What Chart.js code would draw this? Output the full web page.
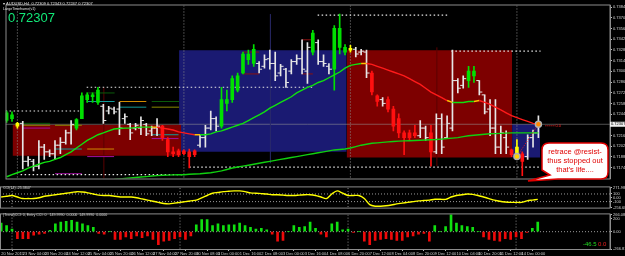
<!DOCTYPE html>
<html><head><meta charset="utf-8">
<script src="https://cdn.jsdelivr.net/npm/chart.js@4.4.1/dist/chart.umd.min.js"></script>
<style>
html,body{margin:0;padding:0;background:#000;overflow:hidden;width:625px;height:256px}
canvas{position:absolute;left:0;display:block}
</style></head><body>
<canvas id="c1" width="625" height="184" style="top:0"></canvas>
<canvas id="c2" width="625" height="27" style="top:184px"></canvas>
<canvas id="c3" width="625" height="45" style="top:211px"></canvas>
<script>
// ---------- DATA ----------
const barHigh = [.72481,.72469,.72331,.72344,.71884,.71847,.72095,.72045,.71971,.72095,
.72132,.72232,.72356,.72381,.72717,.72717,.72717,.72791,.72568,.72543,
.72531,.72593,.72444,.72319,.72319,.72406,.72319,.72282,.72381,.72294,
.72132,.72008,.71983,.71971,.71983,.71971,.72170,.72294,.72481,.72406,
.72791,.72754,.72941,.72978,.73252,.73277,.73351,.73128,.73215,.73277,
.73252,.73091,.73041,.73153,.73215,.73413,.73376,.73538,.73413,.73215,
.73103,.73600,.73750,.73351,.73339,.73314,.73289,.73277,.73003,.72692,
.72655,.72667,.72543,.72444,.72220,.72232,.72294,.72356,.72282,.72294,
.72444,.72444,.72419,.73277,.72904,.72941,.73066,.73066,.72879,.72692,
.72630,.72630,.72282,.72220,.71983,.72107,.71946,.72170,.72232,.72419];
const barLow = [.72331,.72344,.72257,.71722,.71759,.71697,.71722,.71847,.71884,.71847,
.71921,.72045,.72045,.72232,.72381,.72593,.72593,.72568,.72319,.72444,
.72444,.72170,.72319,.72107,.72232,.72170,.72157,.72157,.72157,.72095,
.71884,.71884,.71884,.71909,.71734,.71884,.72008,.72008,.72232,.72220,
.72257,.72481,.72593,.72729,.72966,.73091,.73066,.72978,.73041,.73028,
.72879,.72941,.72791,.72966,.73091,.72966,.72842,.73215,.73091,.73066,
.72966,.72754,.73227,.73215,.73252,.73190,.73215,.72916,.72692,.72543,
.72543,.72469,.72220,.72132,.71909,.72095,.72132,.72132,.72095,.71759,
.71921,.71921,.72132,.72220,.72717,.72779,.72791,.72854,.72692,.72444,
.72157,.71921,.71921,.71921,.71884,.71884,.71635,.71847,.72008,.72132];
const barOpen = [.72356,.72381,.72319,.72319,.71822,.71822,.71759,.72008,.71946,.71921,
.72033,.72070,.72194,.72257,.72381,.72630,.72692,.72593,.72543,.72481,
.72506,.72506,.72381,.72306,.72257,.72257,.72306,.72220,.72257,.72282,
.72107,.71946,.71958,.71958,.71946,.71958,.72033,.72132,.72257,.72381,
.72282,.72580,.72630,.72754,.72978,.73153,.73103,.73103,.73066,.73165,
.73103,.72978,.73028,.73003,.73128,.73165,.73003,.73252,.73376,.73128,
.73066,.73028,.73563,.73314,.73277,.73289,.73252,.73252,.72978,.72679,
.72630,.72630,.72506,.72381,.72194,.72194,.72194,.72157,.72257,.72194,
.71946,.72381,.72132,.72257,.72879,.72816,.72879,.72941,.72879,.72692,
.72506,.72257,.72008,.72132,.71971,.71909,.71921,.71884,.72132,.72194];
const barClose = [.72456,.72431,.72282,.71822,.71847,.71759,.72008,.71946,.71921,.72033,
.72070,.72194,.72306,.72369,.72679,.72692,.72667,.72754,.72356,.72518,
.72469,.72257,.72406,.72194,.72294,.72356,.72182,.72257,.72282,.72132,
.71946,.71921,.71909,.71921,.71884,.71909,.72132,.72257,.72381,.72282,
.72630,.72630,.72904,.72941,.73227,.73227,.73289,.73028,.73153,.73103,
.72941,.73066,.72854,.73128,.73165,.73028,.73314,.73501,.73128,.73103,
.73028,.73563,.73314,.73252,.73302,.73227,.73264,.72978,.72729,.72605,
.72580,.72506,.72282,.72194,.72132,.72132,.72157,.72257,.72132,.71946,
.72381,.72008,.72319,.72879,.72779,.72904,.73003,.73003,.72729,.72469,
.72257,.72008,.72194,.72008,.71909,.72008,.71822,.72132,.72194,.72307];
// bar trend class: g = up, r = down, y = turn, w = neutral
const barTrend = "ggywwwwwwwwwwgggggwwwwwwwwwwwrrrrrrrwwwwgggggggwwwwwwwwwwgwwwgggywwwrrwrrrrrrwwrwwwwwwggwwwwwwryrwww".split('');

const fastMA = [.71620,.71647,.71672,.71697,.71734,.71759,.71784,.71809,.71822,.71847,
.71872,.71909,.71946,.71996,.72045,.72095,.72132,.72170,.72194,.72220,
.72245,.72251,.72257,.72257,.72263,.72269,.72269,.72269,.72269,.72257,
.72245,.72232,.72207,.72194,.72182,.72170,.72170,.72170,.72182,.72207,
.72220,.72245,.72269,.72294,.72319,.72356,.72394,.72431,.72469,.72518,
.72555,.72593,.72630,.72667,.72717,.72754,.72791,.72816,.72854,.72879,
.72916,.72953,.72991,.73041,.73078,.73091,.73103,.73103,.73091,.73066,
.73041,.73016,.72991,.72966,.72941,.72904,.72866,.72829,.72779,.72729,
.72692,.72655,.72618,.72593,.72593,.72593,.72605,.72605,.72618,.72593,
.72568,.72531,.72494,.72456,.72419,.72394,.72369,.72344,.72319,.72307];
const fastTrend = [1,1,1,1,1,1,1,1,1,1, 1,1,1,1,1,1,1,1,1,1, 1,1,1,1,1,1,1,1,-1,-1,
-1,-1,-1,-1,-1,-1,1,1,1,1, 1,1,1,1,1,1,1,1,1,1, 1,1,1,1,1,1,1,1,1,1,
1,1,1,1,1,1,1,-1,-1,-1, -1,-1,-1,-1,-1,-1,-1,-1,-1,-1, -1,-1,-1,1,1,1,1,1,-1,-1,
-1,-1,-1,-1,-1,-1,-1,-1,-1,-1];
const slowMA = [null,null,null,null,null,null,null,null,null,null,
null,null,null,null,null,null,null,null,null,null,
.71585,.71591,.71597,.71604,.71610,.71616,.71622,.71629,.71635,.71639,
.71641,.71644,.71647,.71647,.71653,.71656,.71660,.71666,.71672,.71684,
.71697,.71715,.71734,.71747,.71759,.71771,.71784,.71796,.71809,.71822,
.71834,.71847,.71859,.71872,.71884,.71896,.71909,.71921,.71934,.71946,
.71958,.71971,.71977,.71983,.71996,.72014,.72033,.72045,.72058,.72064,
.72070,.72076,.72082,.72086,.72089,.72092,.72095,.72098,.72101,.72105,
.72107,.72113,.72120,.72126,.72132,.72145,.72157,.72163,.72170,.72176,
.72182,.72185,.72188,.72191,.72194,.72194,.72194,.72194,.72194,.72194];

const cciValues = [20,40,60,20,-20,-20,-20,0,40,60,
80,100,120,140,160,150,130,100,70,60,
60,40,20,20,20,0,-30,-60,-90,-120,
-150,-160,-140,-120,-100,-80,-60,0,60,120,
140,160,170,180,180,160,130,120,110,100,
80,80,70,60,60,70,80,80,60,20,
-20,100,180,120,60,60,60,-20,-180,-220,
-220,-210,-190,-160,-140,-120,-100,-80,-70,-60,
-40,-40,-40,20,60,80,100,90,60,20,
-20,-60,-90,-110,-120,-120,-120,-80,-60,-40];

const trendHist = [133,93,40,-106,-106,-106,-53,-40,-27,20,
120,146,160,173,146,120,93,66,-27,-40,
0,-120,-120,-80,-106,-66,-93,-66,-120,-200,
-146,-133,-106,-80,-120,-66,106,186,186,93,
120,93,106,106,133,93,66,40,53,27,
-40,-146,-133,0,93,66,80,146,53,-40,
-80,120,146,27,40,-13,0,-146,-200,-133,
-120,-106,-120,-133,-133,-80,-66,-40,-27,-146,
93,0,80,266,133,93,80,66,0,-80,
-120,-133,-146,-106,-120,-80,-106,-13,53,146];

// zones: [startBar, endBar, top, bottom, kind]
const zoneStart = [1.1, 32.1, 63.3, 94.1];
const zoneEnd   = [32.5, 63.3, 94.1, 99.3];
const zoneTop   = [.72300, .73277, .73277, .72307];
const zoneBottom= [.71896, .71946, .71871, .71871];
const zoneKind  = ['sell','buy','sell','buy'];

// dotted target levels: start bar, end bar, price
const dotStart = [57.9, 82.8, 14.9, -0.2, 34, 2.6];
const dotEnd   = [82.3, 99.4, 57.0, 13.6, 99.4, 33];
const dotPrice = [.73737, .73264, .72792, .72481, .71747, .71647];

// short pivot levels: start, end, price, colour key
const lvlStart = [14.9,14.9,21,21,27,27,3,3,3,9,9,9,15,15,27,27,44,44,55,55];
const lvlEnd   = [20.1,20.1,26,26,32.1,32.1,8.1,8.1,8.1,14,14,14,20,20,32,32,47,47,57,57];
const lvlPrice = [.72717,.72605,.72605,.72531,.72605,.72531,.72319,.72294,.72257,.72294,.71983,.71660,.71983,.71884,.72170,.72120,.73252,.72966,.73413,.72966];
const lvlKind  = ['dg','cy','or','cy','dg','ol','dg','ol','mg','ol','cy','mg','or','mg','cy','mg','dr','dr','dr','dr'];

const vlineBar = [18.1, 49.1, 80.1];
const vlineTop = [.72791, .73750, .73314];
const vlineBot = [.71600, .71797, .71759];

const weekBars = [2, 33, 64, 95];
const currentPrice = 0.72307;
const markerBars = [95, 99];
const markerPrices = [.71884, .72307];

const priceTicks = [.73840,.73700,.73560,.73420,.73280,.73140,.73000,.72860,.72720,.72580,.72440,.72160,.72020,.71880,.71740];
const cciTicks = [271.9806, 100, 0, -100, -256.684];
const cciTickLabels = ['271.9806','100','0.00','-100','-256.684'];
const histTicks = [266.0812, 200, 0, -266.81];
const histTickLabels = ['266.0812','200','0.00','-266.81'];
const timeTickBars = [0,4,8,12,16,20,24,28,32,36,40,44,48,52,56,60,64,68,72,76,80,84,88,92,96];
const timeTickLabels = ['20 Nov 2015','23 Nov 04:00','23 Nov 20:00','24 Nov 12:00','25 Nov 04:00','25 Nov 20:00','26 Nov 12:00','27 Nov 04:00','27 Nov 20:00','30 Nov 08:00','1 Dec 00:00','1 Dec 16:00','2 Dec 08:00','3 Dec 00:00','3 Dec 16:00','4 Dec 08:00','6 Dec 20:00','7 Dec 12:00','8 Dec 04:00','8 Dec 20:00','9 Dec 12:00','10 Dec 04:00','10 Dec 20:00','11 Dec 12:00','14 Dec 00:00'];

// ---------- STYLE ----------
const X_MIN = -0.214, X_MAX = 112.33;
const COL = {g:'#00e000', r:'#ff1010', y:'#ffff00', w:'#e6e6e6'};
const LVL = {dg:'#0a5a0a', cy:'#119a9a', or:'#d08a00', ol:'#8a8a00', mg:'#a010a0', dr:'#8a1010'};
const ZONE = {sell:'#7d0000', buy:'#1a1a72'};
const FONT = "'Liberation Sans', Arial, sans-serif";
const N = barHigh.length;
const idx = [...Array(N).keys()];

function seg(x0, x1, y0, y1, color, width, dash, order) {
  return {type:'line', data:[{x:x0,y:y0},{x:x1,y:y1}], borderColor:color, borderWidth:width,
    borderDash:dash, pointRadius:0, fill:false, order:order, tension:0};
}
const bg = {id:'bg', beforeDraw(ch){const c=ch.ctx;c.save();c.fillStyle='#000';c.fillRect(0,0,ch.width,ch.height);c.restore();}};
const frame = {id:'frame', afterDraw(ch){const a=ch.chartArea,c=ch.ctx;c.save();c.strokeStyle='#8c8c8c';c.lineWidth=1;
  c.strokeRect(a.left+0.5,a.top-0.5,a.right-a.left-0.5,a.bottom-a.top+1);c.restore();}};

function xScale(display) {
  return {type:'linear', min:X_MIN, max:X_MAX, offset:false, display:display,
    grid:{display:false}, border:{display:false}};
}
function yAxis(min, max, ticksArr, labelFn) {
  return {type:'linear', position:'right', min:min, max:max,
    afterBuildTicks: s => { s.ticks = ticksArr.map(v => ({value:v})); },
    afterFit: s => { s.width = 15; },
    ticks:{color:'#d0d0d0', font:{size:4, family:FONT}, padding:1, callback: labelFn, autoSkip:false},
    grid:{drawOnChartArea:false, drawTicks:true, tickLength:2, color:'#bbbbbb'},
    border:{display:true, color:'#8c8c8c'}};
}
const baseOpts = {responsive:false, animation:false, events:[], devicePixelRatio:1,
  plugins:{legend:{display:false}, tooltip:{enabled:false}}};

// ---------- MAIN CHART ----------
const ds1 = [];
zoneStart.forEach((s,k) => ds1.push({type:'line', data:[{x:s,y:zoneTop[k]},{x:zoneEnd[k],y:zoneTop[k]}],
  fill:{value:zoneBottom[k]}, backgroundColor:ZONE[zoneKind[k]], borderWidth:0, pointRadius:0, order:100}));
ds1.push(seg(X_MIN, X_MAX, currentPrice, currentPrice, 'rgba(150,150,150,0.55)', 1, [], 90));
weekBars.forEach(b => ds1.push(seg(b, b, 0.70, 0.75, '#8a8a8a', 1, [1,2], 89)));
vlineBar.forEach((b,k) => ds1.push(seg(b, b, vlineBot[k], vlineTop[k], k===1?'#2a2a6a':'#5a0000', 1, [], 88)));
lvlStart.forEach((s,k) => ds1.push(seg(s, lvlEnd[k], lvlPrice[k], lvlPrice[k], LVL[lvlKind[k]], 1, [], 80)));
dotStart.forEach((s,k) => ds1.push(seg(s, dotEnd[k], dotPrice[k], dotPrice[k], '#e8e8e8', 1.2, [1.5,2.5], 70)));
ds1.push(seg(markerBars[0], markerBars[1], markerPrices[0], markerPrices[1], '#ff2020', 1, [1,1.5], 4));
// candles
ds1.push({type:'bar', grouped:false, order:12, barThickness:1,
  data: idx.map(i => ({x:i, y:[barLow[i], barHigh[i]]})),
  backgroundColor: idx.map(i => COL[barTrend[i]])});
ds1.push({type:'bar', grouped:false, order:11, barThickness:3,
  data: idx.map(i => barTrend[i]==='w' ? {x:i, y:null} : {x:i, y:[Math.min(barOpen[i],barClose[i]), Math.max(barOpen[i],barClose[i])]}),
  backgroundColor: idx.map(i => COL[barTrend[i]])});
ds1.push({type:'scatter', order:11, pointStyle:'line', pointRadius:1.4, borderWidth:1, borderColor:COL.w,
  data: idx.filter(i => barTrend[i]==='w').map(i => ({x:i-0.3, y:barOpen[i]}))});
ds1.push({type:'scatter', order:11, pointStyle:'line', pointRadius:1.4, borderWidth:1, borderColor:COL.w,
  data: idx.filter(i => barTrend[i]==='w').map(i => ({x:i+0.3, y:barClose[i]}))});
// moving averages
ds1.push({type:'line', order:6, data: idx.map(i => ({x:i, y:slowMA[i]})), borderColor:'#10d010', borderWidth:1.4,
  pointRadius:0, fill:false, spanGaps:false, tension:0});
ds1.push({type:'line', order:5, data: idx.map(i => ({x:i, y:fastMA[i]})), borderWidth:1.4, pointRadius:0, fill:false, tension:0,
  segment:{borderColor: c => { const a=fastTrend[c.p0DataIndex], b=fastTrend[c.p1DataIndex];
    return a!==b ? '#ffc000' : (a>0 ? '#10e010' : '#ff1a1a'); }}});
ds1.push({type:'scatter', order:1, data: markerBars.map((b,k)=>({x:b, y:markerPrices[k]})),
  pointRadius:3, borderWidth:1.5, borderColor:'#b0b0b0', backgroundColor:['#ffd000','#ff8800']});

const mainText = {id:'mainText', afterDraw(ch){
  const c = ch.ctx, ys = ch.scales.y, xs = ch.scales.x;
  c.save();
  c.fillStyle='#e0e0e0'; c.font="4px "+FONT; c.textBaseline='middle';
  c.fillText('\u25BE AUDUSD,H4  0.72309 0.72343 0.72247 0.72307', 3, 4);
  c.font="3.6px "+FONT; c.fillText('LargeTimeframe(v1)', 3, 8.5);
  c.font="13px "+FONT; c.fillStyle='#12e878'; c.textBaseline='alphabetic';
  c.fillText(currentPrice.toFixed(5), 8, 22);
  // current price box on scale
  const py = ys.getPixelForValue(currentPrice);
  c.fillStyle='#f0f0f0'; c.fillRect(610, py-2.5, 15, 5);
  c.fillStyle='#000'; c.font="4px "+FONT; c.textBaseline='middle'; c.fillText(currentPrice.toFixed(5), 611, py);
  // small red label
  const lx = xs.getPixelForValue(100.3);
  c.strokeStyle='#ff2020'; c.setLineDash([1,1]); c.beginPath(); c.moveTo(lx, py+1.5); c.lineTo(lx+9, py+1.5); c.stroke(); c.setLineDash([]);
  c.fillStyle='#ff2020'; c.font="4px "+FONT; c.fillText('0.0', lx+10, py+1.5);
  // callout
  const L=542, T=143, W=66, H=36, R=7;
  c.beginPath();
  c.moveTo(L+R, T); c.lineTo(L+W-R, T); c.quadraticCurveTo(L+W, T, L+W, T+R);
  c.lineTo(L+W, T+H-R); c.quadraticCurveTo(L+W, T+H, L+W-R, T+H);
  c.lineTo(L+16, T+H); c.lineTo(528, 181); c.lineTo(L+8, T+H-4);
  c.lineTo(L, T+H-R-2); c.lineTo(L, T+R); c.quadraticCurveTo(L, T, L+R, T);
  c.closePath();
  c.fillStyle='#ffffff'; c.fill(); c.strokeStyle='#e00000'; c.lineWidth=1.5; c.stroke();
  c.fillStyle='#e00000'; c.font="7.5px "+FONT; c.textAlign='center'; c.textBaseline='middle';
  c.fillText('retrace @resist-', L+W/2, T+9);
  c.fillText('thus stopped out', L+W/2, T+18);
  c.fillText("that's life....", L+W/2, T+27);
  c.restore();
}};

new Chart(document.getElementById('c1'), {type:'bar', data:{datasets:ds1},
  options:Object.assign({}, baseOpts, {layout:{padding:{top:1,bottom:1,left:0,right:0}},
    scales:{x:xScale(false), y:yAxis(0.71597, 0.73862, priceTicks, v => Number(v).toFixed(5))}}),
  plugins:[bg, frame, mainText]});

// ---------- CCI PANEL ----------
const ds2 = [];
weekBars.forEach(b => ds2.push(seg(b, b, -400, 400, '#8a8a8a', 1, [1,2], 50)));
[100,-100].forEach(v => ds2.push(seg(X_MIN, X_MAX, v, v, '#9a9a9a', 1, [1,2], 40)));
ds2.push({type:'line', order:1, data: idx.map(i => ({x:i, y:cciValues[i]})), borderColor:'#ffff00', borderWidth:1.4,
  pointRadius:0, fill:false, tension:0.3});
const cciText = {id:'cciText', afterDraw(ch){const c=ch.ctx;c.save();c.fillStyle='#d0d0d0';c.font="3.6px "+FONT;
  c.textBaseline='middle';c.fillText('CCI(14) -25.3847', 3, 4);c.restore();}};
new Chart(document.getElementById('c2'), {type:'line', data:{datasets:ds2},
  options:Object.assign({}, baseOpts, {layout:{padding:{top:1,bottom:1,left:0,right:0}},
    scales:{x:xScale(false), y:yAxis(-256.684, 271.9806, cciTicks, (v,k) => cciTickLabels[k])}}),
  plugins:[bg, frame, cciText]});

// ---------- TREND HISTOGRAM PANEL ----------
const ds3 = [];
weekBars.forEach(b => ds3.push(seg(b, b, -400, 400, '#8a8a8a', 1, [1,2], 50)));
ds3.push(seg(X_MIN, X_MAX, 0, 0, '#9a9a9a', 1, [1,2], 40));
ds3.push({type:'bar', grouped:false, order:1, barThickness:2,
  data: idx.map(i => ({x:i, y:trendHist[i]})),
  backgroundColor: idx.map(i => trendHist[i] >= 0 ? '#10e010' : '#ee0a0a')});
const histText = {id:'histText', afterDraw(ch){const c=ch.ctx;c.save();c.fillStyle='#d0d0d0';c.font="3.6px "+FONT;
  c.textBaseline='middle';c.fillText('(Trend)CCI: 0, Entry CCI: 0   149.9990  0.0000  149.9990  0.0000', 3, 4);
  c.font="6px "+FONT; c.fillStyle='#22dd22'; c.fillText('-46.5', 583, 33); c.fillStyle='#ee2020'; c.fillText('0.0', 598, 33);
  c.restore();}};
const xs3 = xScale(true);
xs3.afterBuildTicks = s => { s.ticks = timeTickBars.map(v => ({value:v})); };
xs3.afterFit = s => { s.height = 7; };
xs3.ticks = {color:'#d0d0d0', font:{size:4, family:FONT}, padding:0, autoSkip:false, maxRotation:0, align:'start',
  callback: (v,k) => timeTickLabels[k]};
xs3.grid = {display:true, drawOnChartArea:false, drawTicks:true, tickLength:2, color:'#bbbbbb'};
new Chart(document.getElementById('c3'), {type:'bar', data:{datasets:ds3},
  options:Object.assign({}, baseOpts, {layout:{padding:{top:2,bottom:0,left:0,right:0}},
    scales:{x:xs3, y:yAxis(-266.81, 266.0812, histTicks, (v,k) => histTickLabels[k])}}),
  plugins:[bg, frame, histText]});
</script>
</body></html>
